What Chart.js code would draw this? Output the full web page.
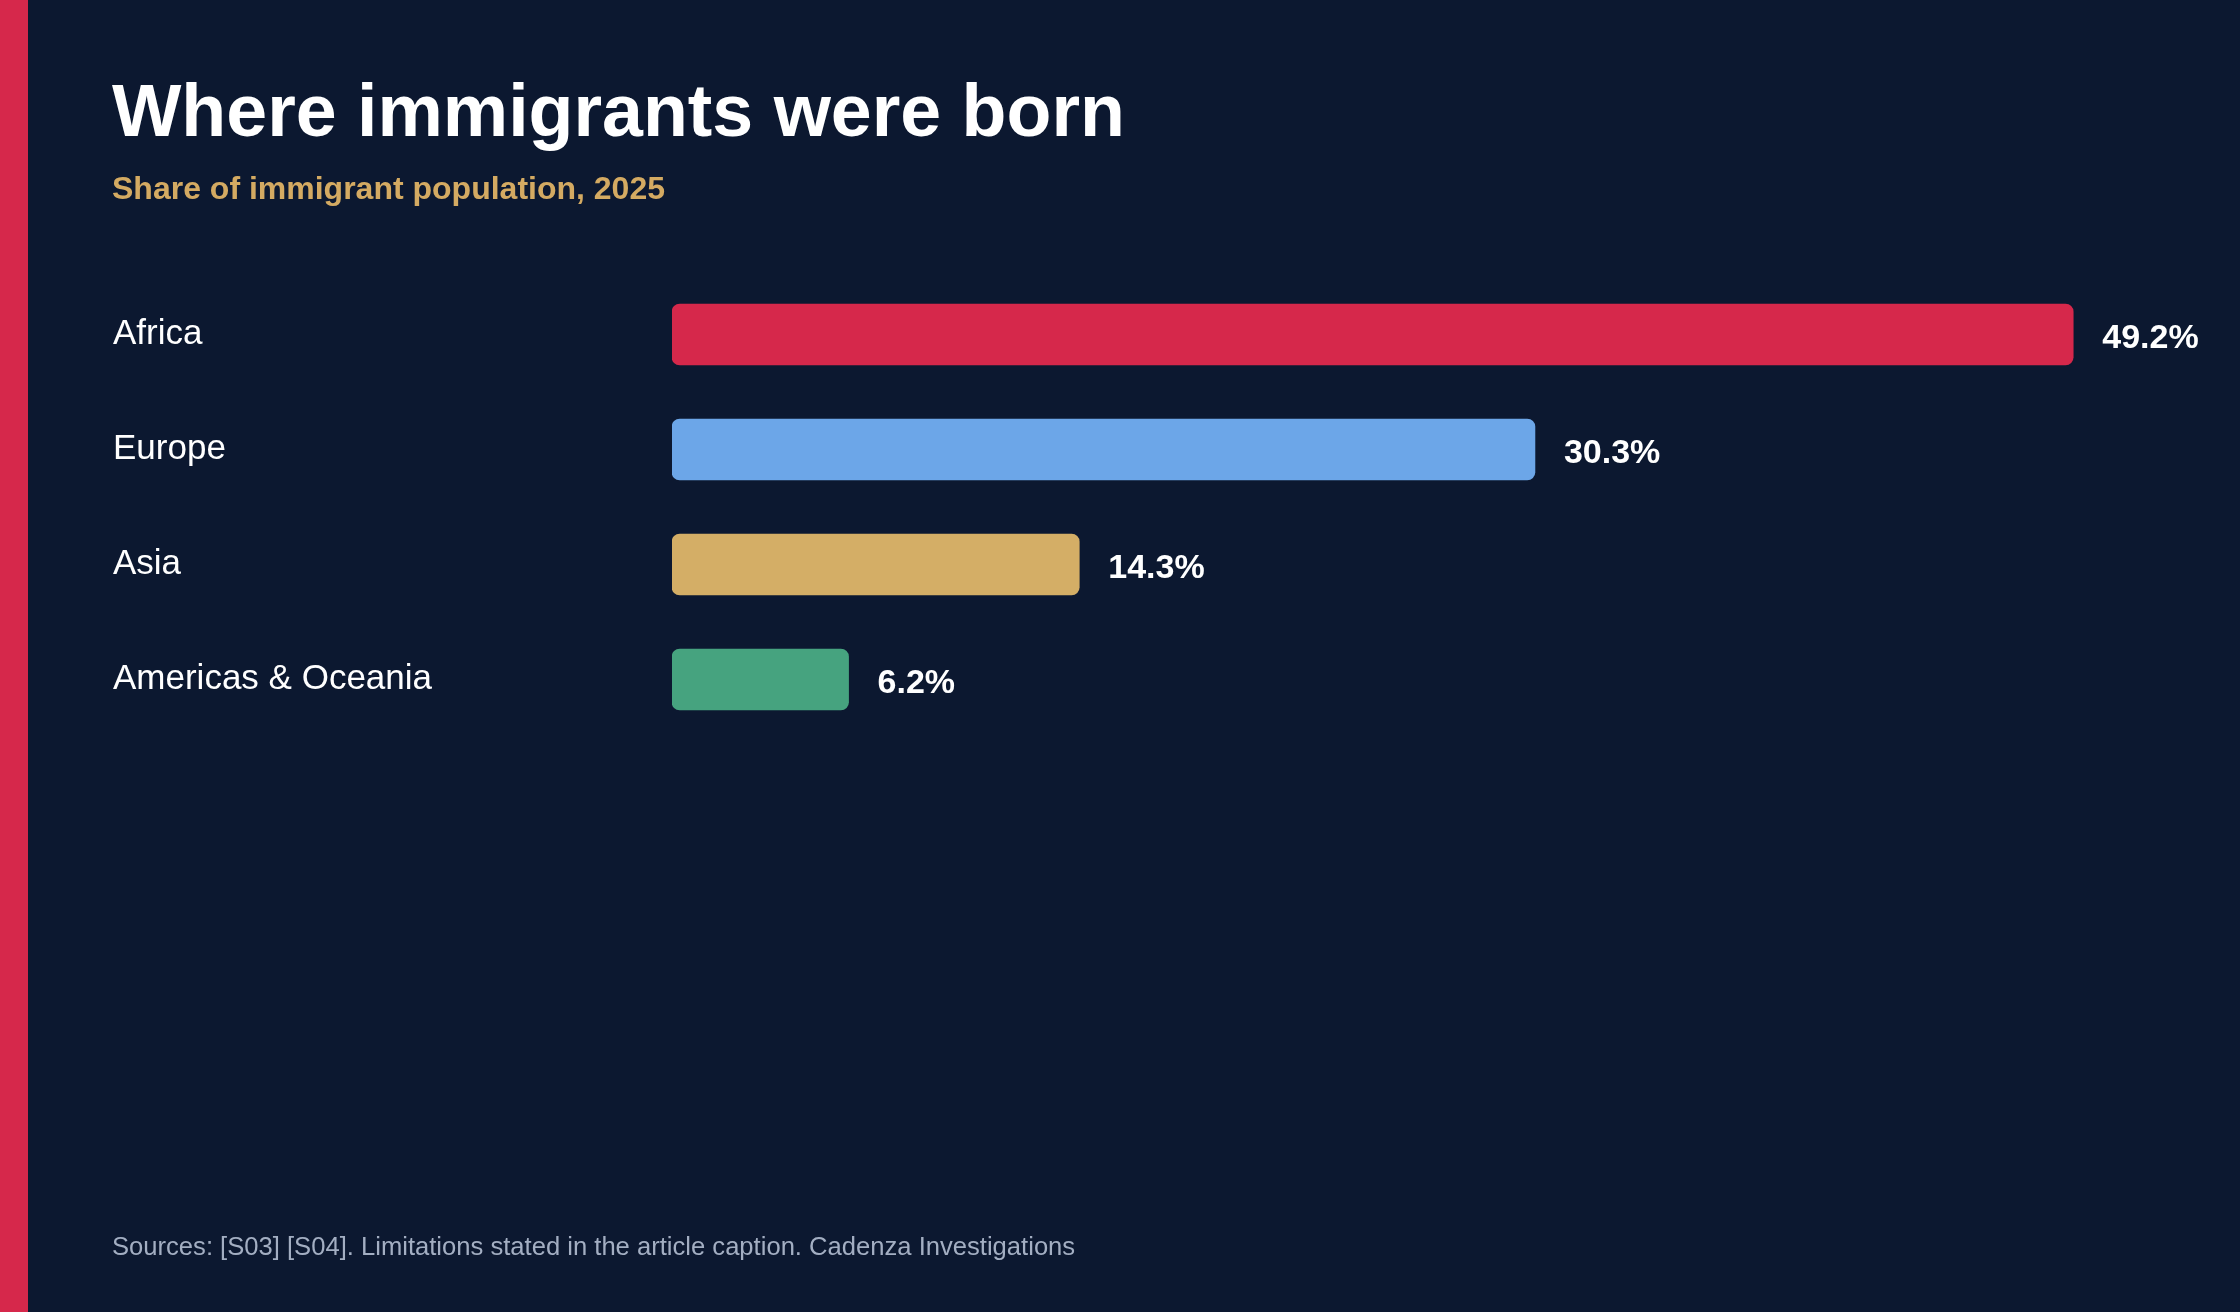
<!DOCTYPE html>
<html>
<head>
<meta charset="utf-8">
<script src="https://cdn.jsdelivr.net/npm/chart.js@4.4.1/dist/chart.umd.min.js"></script>
<style>
  html, body { margin: 0; padding: 0; background: #0c1830; }
  body { width: 2240px; height: 1312px; position: relative; overflow: hidden; font-family: "Liberation Sans", Arial, sans-serif; }
  #stripe { position: absolute; left: 0; top: 0; width: 28px; height: 1312px; background: #d6284b; }
  #wrap { position: absolute; left: 0; top: 0; width: 2240px; height: 1312px; }
  .txt { position: absolute; left: 112px; white-space: nowrap; line-height: 1; margin: 0; }
  #title { top: 74px; font-size: 73.5px; font-weight: 700; color: #ffffff; }
  #subtitle { top: 172px; font-size: 32px; font-weight: 700; color: #d4aa62; }
  #footer { top: 1234px; font-size: 25.6px; font-weight: 400; color: #a3aec2; }
</style>
</head>
<body>
<div id="stripe"></div>
<div id="wrap"><canvas id="c"></canvas></div>
<h1 class="txt" id="title">Where immigrants were born</h1>
<div class="txt" id="subtitle">Share of immigrant population, 2025</div>
<div class="txt" id="footer">Sources: [S03] [S04]. Limitations stated in the article caption. Cadenza Investigations</div>
<script>
const categories = ["Africa", "Europe", "Asia", "Americas & Oceania"];
const shares = [49.2, 30.3, 14.3, 6.2];
const valueLabels = ["49.2%", "30.3%", "14.3%", "6.2%"];
const barColors = ["#d6284b", "#6ca6e8", "#d4ae66", "#46a37f"];

const valueLabelPlugin = {
  id: "valueLabels",
  afterDatasetsDraw(chart) {
    const ctx = chart.ctx;
    const meta = chart.getDatasetMeta(0);
    ctx.save();
    ctx.font = "700 34px 'Liberation Sans', Arial, sans-serif";
    ctx.fillStyle = "#ffffff";
    ctx.textAlign = "left";
    ctx.textBaseline = "middle";
    meta.data.forEach((bar, i) => {
      ctx.fillText(valueLabels[i], bar.x + 29, bar.y + 4);
    });
    ctx.restore();
  }
};

new Chart(document.getElementById("c"), {
  type: "bar",
  data: {
    labels: categories,
    datasets: [{
      data: shares,
      backgroundColor: barColors,
      borderRadius: 8,
      borderSkipped: false,
      barThickness: 61
    }]
  },
  options: {
    indexAxis: "y",
    responsive: true,
    maintainAspectRatio: false,
    animation: false,
    devicePixelRatio: 1,
    layout: { padding: { left: 113, top: 277, bottom: 575, right: 144 } },
    plugins: { legend: { display: false }, tooltip: { enabled: false }, title: { display: false } },
    scales: {
      x: { display: false, min: 0, max: 50 },
      y: {
        grid: { display: false },
        border: { display: false },
        ticks: {
          color: "#ffffff",
          font: { family: "'Liberation Sans', Arial, sans-serif", size: 35 },
          crossAlign: "far",
          padding: 0,
          labelOffset: 0
        },
        afterFit(scale) { scale.width = 559; }
      }
    }
  },
  plugins: [valueLabelPlugin]
});
</script>
</body>
</html>
